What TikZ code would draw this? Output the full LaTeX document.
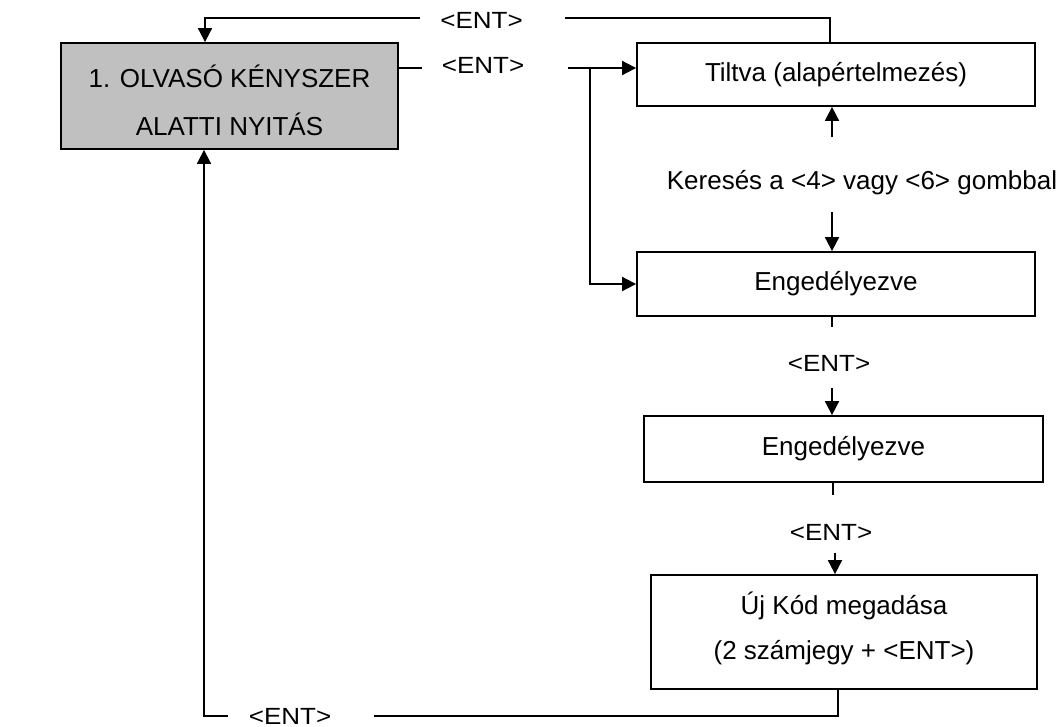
\documentclass[tikz,border=0pt]{standalone}
\usepackage{fontspec}
\usepackage{graphicx}
\setmainfont{Liberation Sans}
\usetikzlibrary{arrows.meta,calc}
\definecolor{boxgray}{RGB}{192,192,192}
\newcommand{\entlbl}{\scalebox{1}[0.9]{<ENT>}}
\newcommand{\twolines}[3]{\raisebox{#1}[\height][\depth]{\begin{tabular}{@{}c@{}}#2\\#3\end{tabular}}}
\begin{document}
\begin{tikzpicture}[x=1pt,y=-1pt, line width=1.8pt,
  box/.style={draw=black, line width=1.8pt, inner sep=0pt, align=center, font=\fontsize{26}{46}\selectfont},
  lbl/.style={inner sep=0pt, font=\fontsize{26}{30}\selectfont},
  ent/.style={inner sep=0pt, font=\fontsize{26}{30}\selectfont},
  arr/.style={-{Triangle[length=14pt,width=14pt]}}]
\useasboundingbox (0,0) rectangle (1064,726);
% boxes
\node[box, fill=boxgray, minimum width=337pt, minimum height=106pt, font=\fontsize{26}{48}\selectfont] (main) at (229.5,96) {\twolines{-5.5pt}{1. OLVASÓ KÉNYSZER}{ALATTI NYITÁS}};
\node[box, minimum width=398pt, minimum height=63pt] (tiltva) at (836,74.5) {Tiltva (alapértelmezés)};
\node[box, minimum width=398pt, minimum height=64pt] (eng1) at (836,284) {Engedélyezve};
\node[box, minimum width=399pt, minimum height=66pt] (eng2) at (843.5,449) {Engedélyezve};
\node[box, minimum width=386pt, minimum height=114pt, font=\fontsize{26}{45}\selectfont] (uj) at (844,632) {\twolines{4pt}{Új Kód megadása}{(2 számjegy + <ENT>)}};
% labels
\node[ent] (entA) at (481.5,20) {\entlbl};
\node[ent] (entB) at (483,65) {\entlbl};
\node[lbl] (ker) at (862,183) {Keresés a <4> vagy <6> gombbal};
\node[ent] (entC) at (829,363) {\entlbl};
\node[ent] (entD) at (831,532) {\entlbl};
\node[ent] (entE) at (290,716) {\entlbl};
% coordinates
\coordinate (t1) at (565,18);
\coordinate (t2) at (420,18);
\coordinate (s1) at (422,68);
\coordinate (s2) at (568,68);
\coordinate (br) at (590,68);
\coordinate (k1) at (832,137);
\coordinate (k2) at (832,212);
\coordinate (e1) at (832,327);
\coordinate (e2) at (832,388);
\coordinate (f1) at (833,495);
\coordinate (f2) at (835,553);
\coordinate (b1) at (838,716);
\coordinate (b2) at (374,716);
\coordinate (b3) at (228,716);
% connectors
\draw ([xshift=-6pt]tiltva.north) |- (t1);
\draw[arr] (t2) -| ([xshift=-24.5pt]main.north);
\draw (main.east |- s1) -- (s1);
\draw[arr] (s2) -- (tiltva.west |- s2);
\draw[arr] (br) |- (eng1.west);
\draw[arr] (k1) -- (k1 |- tiltva.south);
\draw[arr] (k2) -- (k2 |- eng1.north);
\draw (e1 |- eng1.south) -- (e1);
\draw[arr] (e2) -- (e2 |- eng2.north);
\draw (f1 |- eng2.south) -- (f1);
\draw[arr] (f2) -- (f2 |- uj.north);
\draw (b1 |- uj.south) -- (b1) -- (b2);
\draw[arr] (b3) -| ([xshift=-25.5pt]main.south);
\end{tikzpicture}
\end{document}
